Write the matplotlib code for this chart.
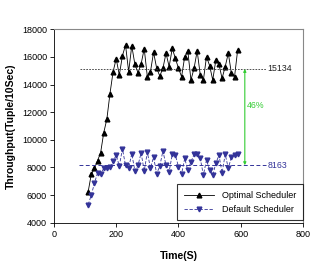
import matplotlib
matplotlib.use("Agg")
import matplotlib.pyplot as plt

plt.rcParams['font.family'] = ['Liberation Sans', 'DejaVu Sans']

time_s = list(range(110, 600, 10))
optimal = [6244, 7504, 7938, 8488, 9067, 10515, 11500, 13340, 14930, 15870,
           14690, 16090, 16860, 14930, 16810, 15470, 14860, 15490, 16600, 14570,
           14930, 16336, 15177, 14620, 15180, 16270, 15300, 16620, 15900, 15180,
           14570, 16020, 16430, 14330, 15180, 16430, 14690, 14330, 16020, 15370,
           14330, 15780, 15460, 14450, 15300, 16270, 14810, 14570, 16500]
default = [5300, 6000, 6850, 7600, 7500, 7950, 7950, 8000, 8450, 8900,
           8100, 9350, 8150, 7950, 9000, 7750, 8150, 9050, 7750, 9100,
           7950, 8750, 7550, 8100, 9200, 8150, 7700, 8950, 8900, 8050,
           7550, 8650, 7800, 8400, 8950, 8950, 8650, 7450, 8550, 7800,
           7450, 8300, 8900, 7600, 8950, 7950, 8750, 8900, 9000]
optimal_avg = 15134
default_avg = 8163
gain_label = "46%"
x_ticks = [0, 200, 400, 600, 800]
y_ticks = [4000, 6000, 8000, 10000, 12000, 14000, 16000, 18000]

blue = '#333399'
green = '#33cc33'

fig = plt.figure(figsize=(3.19, 2.62), dpi=100)
ax = fig.add_axes([0.169, 0.150, 0.781, 0.738])

ax.plot(time_s, optimal, color='black', lw=0.6, marker='^', ms=3.4,
        label='Optimal Scheduler')
ax.plot(time_s, default, color=blue, lw=0.6, ls=(0, (4, 2)), marker='v', ms=3.4,
        label='Default Scheduler')

ax.plot([85, 680], [optimal_avg, optimal_avg], color='#333333', lw=0.6, ls=(0, (2, 1.5)))
ax.plot([82, 680], [default_avg, default_avg], color=blue, lw=0.7, ls=(0, (4, 2.5)))
ax.text(686, optimal_avg, str(optimal_avg), fontsize=6.3, va='center', ha='left', color='#222222')
ax.text(686, default_avg, str(default_avg), fontsize=6.3, va='center', ha='left', color=blue)

ax.annotate('', xy=(613, optimal_avg), xytext=(613, default_avg),
            arrowprops=dict(arrowstyle='<|-|>', color=green, lw=0.8,
                            mutation_scale=4, shrinkA=0, shrinkB=0))
ax.text(620, 12520, gain_label, fontsize=6.3, color=green, va='center', ha='left')

ax.set_xlim(0, 800)
ax.set_ylim(4000, 18000)
ax.set_xticks(x_ticks)
ax.set_yticks(y_ticks)
ax.tick_params(labelsize=6.5, length=3, width=0.6, direction='out', pad=2)
for s in ['top', 'right']:
    ax.spines[s].set_color('#888888')
    ax.spines[s].set_linewidth(0.8)
for s in ['left', 'bottom']:
    ax.spines[s].set_color('black')
    ax.spines[s].set_linewidth(0.6)

ax.set_xlabel('Time(S)', fontsize=7.6, fontweight='bold', labelpad=9)
ax.set_ylabel('Throughput(Tuple/10Sec)', fontsize=7.6, fontweight='bold', labelpad=4)

leg = ax.legend(loc='lower right', bbox_to_anchor=(1.0, 0.014), fontsize=6.5,
                frameon=True, fancybox=False, edgecolor='black', borderaxespad=0,
                handlelength=3.4, borderpad=0.7, labelspacing=0.55, handletextpad=0.9)
leg.get_frame().set_linewidth(0.8)

fig.savefig('out.png', dpi=100)
